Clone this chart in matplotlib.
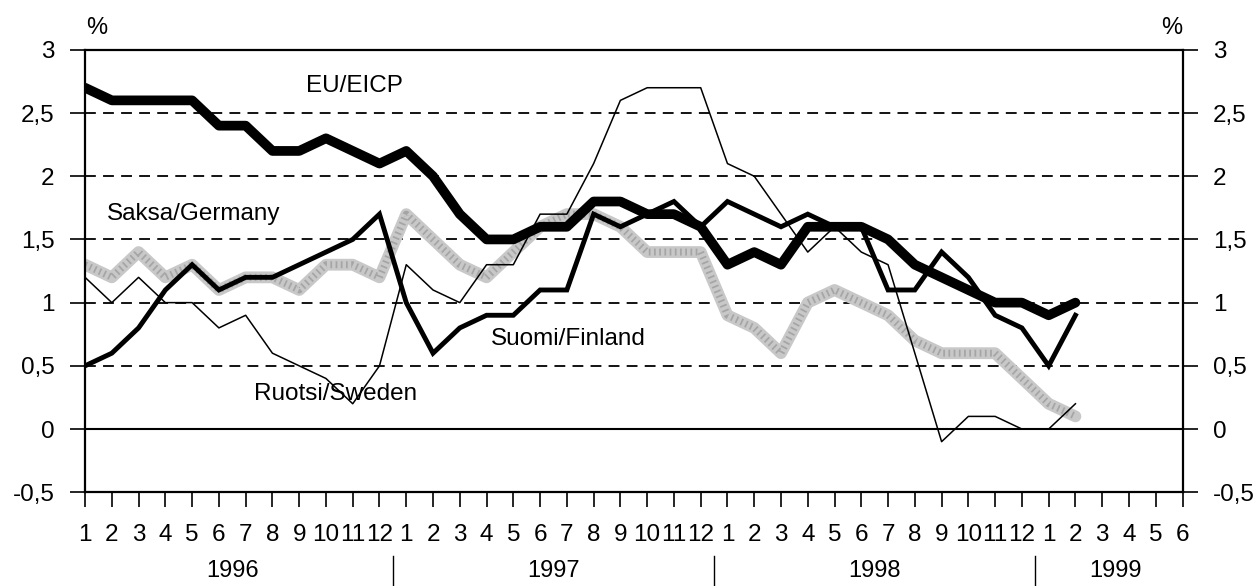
import matplotlib
matplotlib.use("Agg")
import matplotlib.pyplot as plt
import numpy as np

plt.rcParams['font.family'] = ['Liberation Sans', 'DejaVu Sans']

# kuukaudet 1996/1 - 1999/2
months = np.arange(1, 39)

eu = [2.7, 2.6, 2.6, 2.6, 2.6, 2.4, 2.4, 2.2, 2.2, 2.3, 2.2, 2.1,
      2.2, 2.0, 1.7, 1.5, 1.5, 1.6, 1.6, 1.8, 1.8, 1.7, 1.7, 1.6,
      1.3, 1.4, 1.3, 1.6, 1.6, 1.6, 1.5, 1.3, 1.2, 1.1, 1.0, 1.0,
      0.9, 1.0]
finland = [0.5, 0.6, 0.8, 1.1, 1.3, 1.1, 1.2, 1.2, 1.3, 1.4, 1.5, 1.7,
           1.0, 0.6, 0.8, 0.9, 0.9, 1.1, 1.1, 1.7, 1.6, 1.7, 1.8, 1.6,
           1.8, 1.7, 1.6, 1.7, 1.6, 1.6, 1.1, 1.1, 1.4, 1.2, 0.9, 0.8,
           0.5, 0.9]
sweden = [1.2, 1.0, 1.2, 1.0, 1.0, 0.8, 0.9, 0.6, 0.5, 0.4, 0.2, 0.5,
          1.3, 1.1, 1.0, 1.3, 1.3, 1.7, 1.7, 2.1, 2.6, 2.7, 2.7, 2.7,
          2.1, 2.0, 1.7, 1.4, 1.6, 1.4, 1.3, 0.6, -0.1, 0.1, 0.1, 0.0,
          0.0, 0.2]
germany = [1.3, 1.2, 1.4, 1.2, 1.3, 1.1, 1.2, 1.2, 1.1, 1.3, 1.3, 1.2,
           1.7, 1.5, 1.3, 1.2, 1.4, 1.6, 1.7, 1.7, 1.6, 1.4, 1.4, 1.4,
           0.9, 0.8, 0.6, 1.0, 1.1, 1.0, 0.9, 0.7, 0.6, 0.6, 0.6, 0.4,
           0.2, 0.1]

years = ["1996", "1997", "1998", "1999"]
month_labels = [str(m) for m in range(1, 13)] * 3 + [str(m) for m in range(1, 7)]
yticks = [-0.5, 0, 0.5, 1, 1.5, 2, 2.5, 3]
ytick_labels = ["-0,5", "0", "0,5", "1", "1,5", "2", "2,5", "3"]

fig = plt.figure(figsize=(12.6, 5.86), dpi=100)
ax = fig.add_axes([0.0675, 0.16, 0.871, 0.755])

# sarjat (Saksa rasteroituna harmaana)
ax.plot(months, germany, color='#c8c8c8', lw=8.5, solid_capstyle='round', solid_joinstyle='round', zorder=2)
ax.plot(months, germany, color='#a5a5a5', lw=5, ls=(0, (0.25, 0.5)), zorder=2)
ax.plot(months, sweden, color='black', lw=1.1, zorder=3)
ax.plot(months, finland, color='black', lw=3.5, solid_joinstyle='miter', zorder=4)
ax.plot(months, eu, color='black', lw=7, solid_capstyle='round', solid_joinstyle='round', zorder=5)

# apuviivat
for yv in [0.5, 1, 1.5, 2, 2.5]:
    ax.axhline(yv, color='black', lw=1.3, ls=(0, (6, 4)), zorder=1)
ax.axhline(0, color='black', lw=1.5, zorder=1)

ax.set_xlim(1, 42)
ax.set_ylim(-0.5, 3)
ax.set_xticks(np.arange(1, 43))
ax.set_xticklabels(month_labels, fontsize=17.5)
ax.set_yticks(yticks)
ax.set_yticklabels(ytick_labels, fontsize=17.5)
ax.tick_params(axis='x', direction='out', length=11, width=1.2, pad=12)
ax.tick_params(axis='y', direction='out', length=11, width=1.2, pad=11,
               right=True, labelright=True)
for s in ax.spines.values():
    s.set_linewidth(1.6)

# vuodet
trans = ax.get_xaxis_transform()
year_centers = [6.5, 18.5, 30.5, 39.5]
for yc, yr in zip(year_centers, years):
    ax.text(yc, -0.178, yr, transform=trans, ha='center', va='center', fontsize=17)
for xs in [12.5, 24.5, 36.5]:
    ax.plot([xs, xs], [-0.145, -0.212], transform=trans, color='black', lw=1, clip_on=False)

# sarjojen nimet
ax.text(9.25, 2.71, "EU/EICP", fontsize=17.5, va='center', ha='left')
ax.text(1.8, 1.70, "Saksa/Germany", fontsize=17.5, va='center', ha='left')
ax.text(16.15, 0.71, "Suomi/Finland", fontsize=17.5, va='center', ha='left')
ax.text(7.3, 0.28, "Ruotsi/Sweden", fontsize=17.5, va='center', ha='left')

fig.text(97 / 1260, 1 - 28 / 586, "%", fontsize=17, ha='center', va='center')
fig.text(1172 / 1260, 1 - 28 / 586, "%", fontsize=17, ha='center', va='center')

fig.savefig("out.png", dpi=100)
